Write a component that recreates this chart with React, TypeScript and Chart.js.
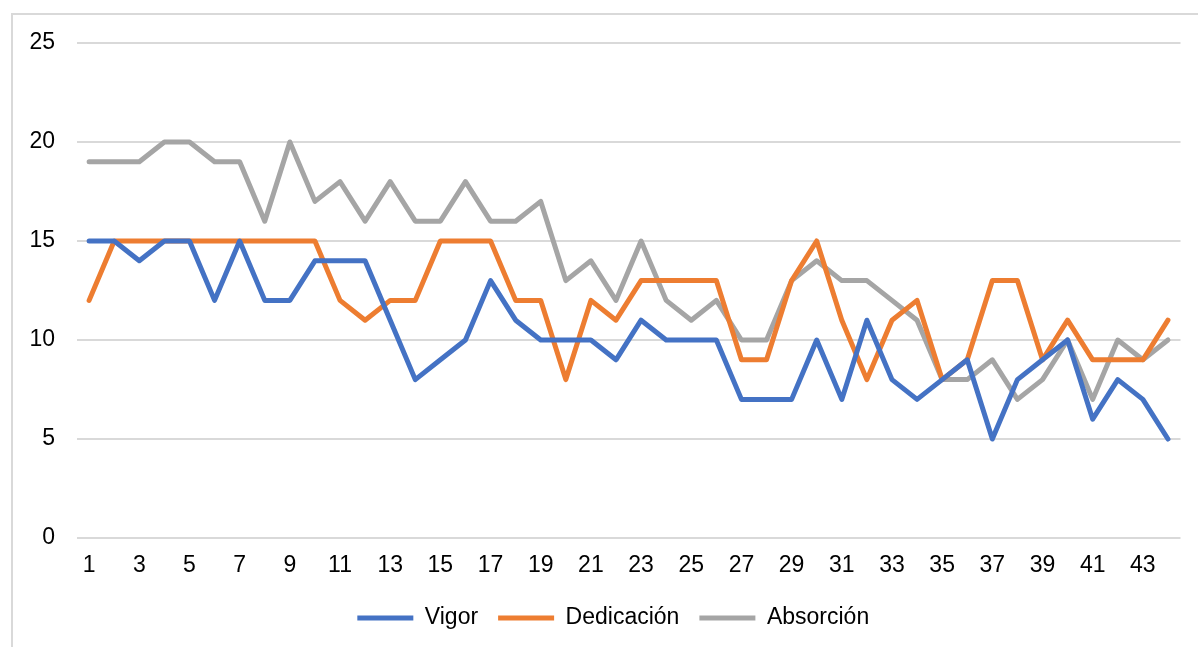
import React, { useEffect, useRef } from "react";
import { Chart, registerables } from "chart.js";

Chart.register(...registerables);

const categories: string[] = Array.from({ length: 44 }, (_, i) => String(i + 1));

const vigor: number[] = [
  15, 15, 14, 15, 15, 12, 15, 12, 12, 14, 14, 14, 11, 8, 9, 10, 13, 11, 10, 10, 10, 9,
  11, 10, 10, 10, 7, 7, 7, 10, 7, 11, 8, 7, 8, 9, 5, 8, 9, 10, 6, 8, 7, 5,
];

const dedicacion: number[] = [
  12, 15, 15, 15, 15, 15, 15, 15, 15, 15, 12, 11, 12, 12, 15, 15, 15, 12, 12, 8, 12, 11,
  13, 13, 13, 13, 9, 9, 13, 15, 11, 8, 11, 12, 8, 9, 13, 13, 9, 11, 9, 9, 9, 11,
];

const absorcion: number[] = [
  19, 19, 19, 20, 20, 19, 19, 16, 20, 17, 18, 16, 18, 16, 16, 18, 16, 16, 17, 13, 14, 12,
  15, 12, 11, 12, 10, 10, 13, 14, 13, 13, 12, 11, 8, 8, 9, 7, 8, 10, 7, 10, 9, 10,
];

const seriesNames: string[] = ["Vigor", "Dedicación", "Absorción"];
const seriesColors: string[] = ["#4472C4", "#ED7D31", "#A5A5A5"];
const yTicks: number[] = [0, 5, 10, 15, 20, 25];

const FONT = "'Liberation Sans', Arial, sans-serif";

const legendShift = {
  id: "legendShift",
  afterLayout(chart: any) {
    const lg = chart.legend;
    if (lg) {
      lg.left += 19;
      lg.right += 19;
      lg.top -= 7.5;
      lg.bottom -= 7.5;
    }
  },
};

export default function App() {
  const ref = useRef<HTMLCanvasElement | null>(null);

  useEffect(() => {
    if (!ref.current) return;
    const values = [vigor, dedicacion, absorcion];
    const chart = new Chart(ref.current, {
      type: "line",
      data: {
        labels: categories,
        datasets: values.map((v, i) => ({
          label: seriesNames[i],
          data: v,
          borderColor: seriesColors[i],
          backgroundColor: seriesColors[i],
          borderWidth: 5,
          pointRadius: 0,
          pointHoverRadius: 0,
          pointStyle: "line",
          tension: 0,
          borderCapStyle: "round",
          borderJoinStyle: "round",
          fill: false,
        })),
      },
      options: {
        animation: false,
        responsive: false,
        maintainAspectRatio: false,
        layout: { padding: { left: 8, right: 17.5, top: 43, bottom: 0 } },
        plugins: {
          tooltip: { enabled: false },
          legend: {
            position: "bottom",
            align: "center",
            labels: {
              usePointStyle: true,
              pointStyleWidth: 56,
              padding: 20,
              color: "#000",
              font: { family: FONT, size: 23 },
            },
          },
        },
        scales: {
          x: {
            type: "category",
            offset: true,
            grid: { display: false, drawTicks: false },
            border: { display: false },
            ticks: {
              autoSkip: false,
              maxRotation: 0,
              minRotation: 0,
              padding: 9,
              color: "#000",
              font: { family: FONT, size: 23, lineHeight: "38px" },
              callback: (_v: any, i: number) => (i % 2 === 0 ? categories[i] : ""),
            },
          },
          y: {
            min: yTicks[0],
            max: yTicks[yTicks.length - 1],
            afterBuildTicks: (axis: any) => {
              axis.ticks = yTicks.map((v) => ({ value: v }));
            },
            grid: { color: "#d9d9d9", lineWidth: 2, drawTicks: false },
            border: { display: false },
            ticks: {
              padding: 21.5,
              color: "#000",
              font: { family: FONT, size: 23 },
            },
          },
        },
      },
      plugins: [legendShift],
    });
    return () => chart.destroy();
  }, []);

  return (
    <div
      style={{
        position: "fixed",
        left: 0,
        top: 0,
        width: 1198,
        height: 647,
        background: "#fff",
        overflow: "hidden",
      }}
    >
      <div
        style={{
          position: "absolute",
          left: 11,
          top: 13,
          width: 1300,
          height: 800,
          border: "2px solid #d9d9d9",
          boxSizing: "border-box",
        }}
      />
      <canvas
        ref={ref}
        width={1198}
        height={647}
        style={{ position: "absolute", left: 0, top: 0, width: 1198, height: 647 }}
      />
    </div>
  );
}
